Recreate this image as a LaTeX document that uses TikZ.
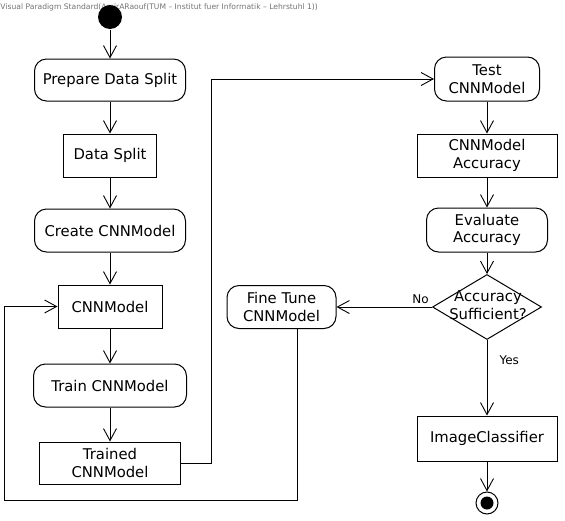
\documentclass[tikz,border=0pt]{standalone}
\usepackage{fontspec}
\setmainfont{DejaVu Sans}
\usetikzlibrary{arrows.meta,shapes.geometric,calc}
\begin{document}
\begin{tikzpicture}[x=1pt,y=-1pt,line width=1pt,
  every node/.style={font=\fontsize{14.8}{17.5}\selectfont, align=center, inner sep=0pt},
  act/.style={draw, rounded corners=12pt},
  obj/.style={draw},
  flow/.style={draw, -{Straight Barb[length=12pt,width=13pt,line width=0.9pt]}},
  lbl/.style={font=\fontsize{12}{14}\selectfont}]
\path[use as bounding box] (0,0) rectangle (565,520);
\node[anchor=west, text=black!55, font=\fontsize{7.6}{9}\selectfont] (wm) at (0,7) {Visual Paradigm Standard(AmirARaouf(TUM – Institut fuer Informatik – Lehrstuhl 1))};
\node[circle, fill=black, minimum size=24pt] (init) at (110,17) {};
\node[act, minimum width=151pt, minimum height=42pt] (prep) at (110,80) {Prepare Data Split};
\node[obj, minimum width=93pt, minimum height=43pt] (split) at (110,155.5) {Data Split};
\node[act, minimum width=151pt, minimum height=43pt] (create) at (110,230.5) {Create CNNModel};
\node[obj, minimum width=104pt, minimum height=43pt] (cnn) at (110,306.5) {CNNModel};
\node[act, minimum width=153pt, minimum height=43pt] (train) at (110,385.5) {Train CNNModel};
\node[obj, minimum width=141pt, minimum height=42pt] (trained) at (110,463) {Trained\\CNNModel};
\node[act, minimum width=105pt, minimum height=44pt] (test) at (487,79) {Test\\CNNModel};
\node[obj, minimum width=140pt, minimum height=43pt] (acc) at (487,155.5) {CNNModel\\Accuracy};
\node[act, minimum width=121pt, minimum height=44pt] (eval) at (487,230) {Evaluate\\Accuracy};
\node[diamond, draw, minimum width=109pt, minimum height=65pt, aspect=1.68] (dec) at (487,307) {};
\node (dectext) at (488,305) {Accuracy\\Sufficient?};
\node[act, minimum width=109pt, minimum height=43pt] (fine) at (281.5,307) {Fine Tune\\CNNModel};
\node[obj, minimum width=140pt, minimum height=45pt] (img) at (487,438.5) {ImageClassifier};
\node[circle, draw, minimum size=22pt] (final) at (487,503) {};
\node[circle, fill=black, minimum size=13pt] (finaldot) at (final) {};
\coordinate (t1) at (211,463);
\coordinate (f1) at (297,500);
\coordinate (f2) at (4,500);
\path[flow] (init) -- (prep);
\path[flow] (prep) -- (split);
\path[flow] (split) -- (create);
\path[flow] (create) -- (cnn);
\path[flow] (cnn) -- (train);
\path[flow] (train) -- (trained);
\path[flow] (trained.east) -- (trained.east -| t1) |- (test.west);
\path[flow] (test) -- (acc);
\path[flow] (acc) -- (eval);
\path[flow] (eval) -- (dec.north);
\path[flow] (dec.west) -- node[lbl, above, pos=0.12, yshift=3pt] (no) {No} (fine.east);
\path[flow] (dec.south) -- node[lbl, right, pos=0.27, xshift=12pt] (yes) {Yes} (img.north);
\path[flow] (img) -- (final);
\path[flow] (fine.south -| f1) -- (f1) -- (f2) |- (cnn.west);
\end{tikzpicture}
\end{document}
